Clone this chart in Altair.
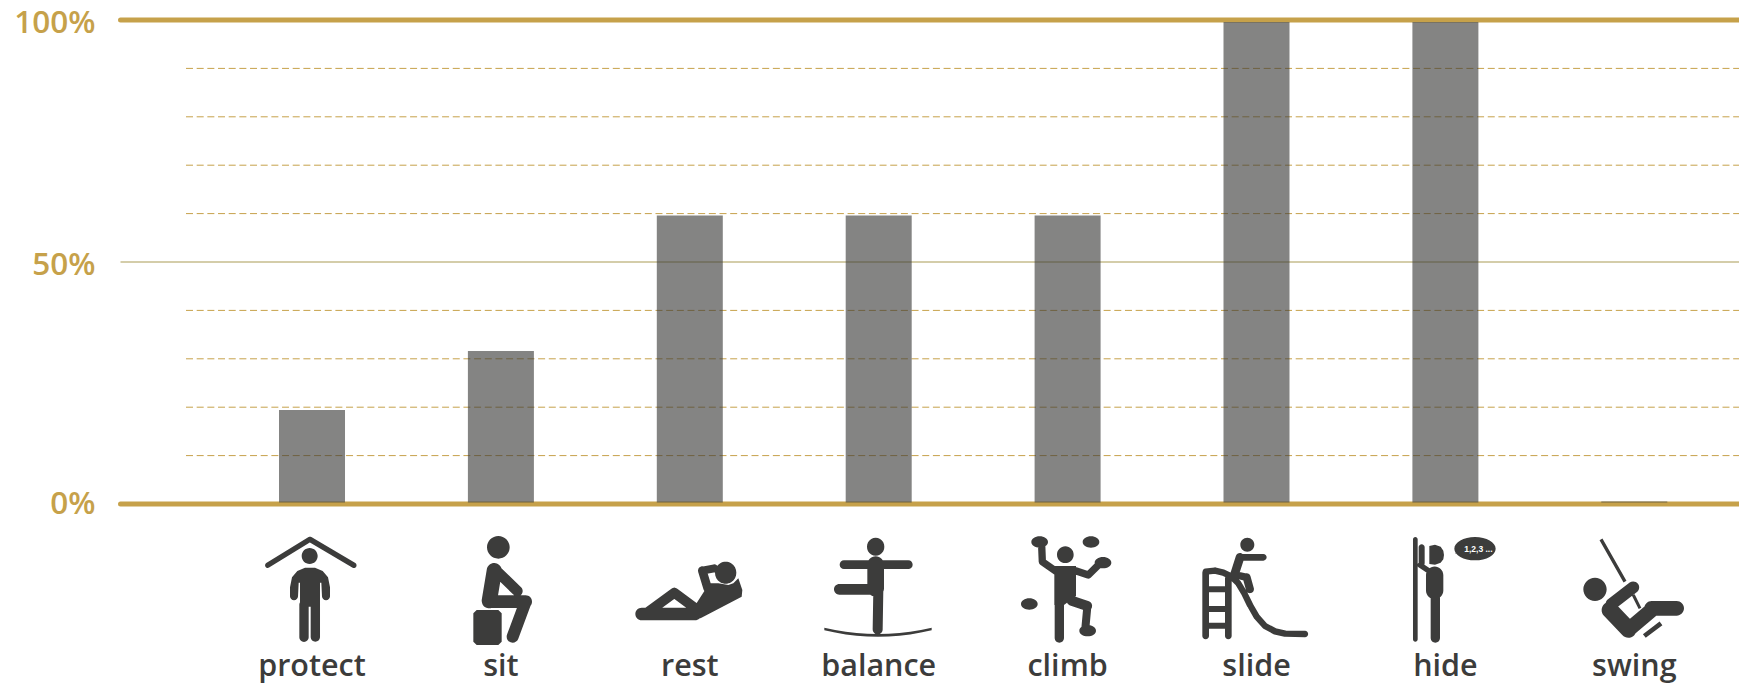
import math
import altair as alt
import pandas as pd

# ---- values ----
categories = ["protect", "sit", "rest", "balance", "climb", "slide", "hide", "swing"]
shares = [19.4, 31.6, 59.6, 59.6, 59.6, 99.6, 99.6, 0.5]
positions = [0, 1, 2, 3, 4, 5, 6, 7]
heavy_lines = [0, 100]
middle_lines = [50]
dashed_lines = [10, 20, 30, 40, 60, 70, 80, 90]
axis_ticks = [0, 50, 100]
bar_floor = 0.3

GOLD = "#c6a14a"
DARK = "#3c3c3b"
FONT = "Open Sans"
X0, X1 = -1.0138, 7.5543
DASH_X0 = -0.667
STEP, FIRST, ICON_Y = 188.9, 312.0, 570.0


# ---- pictogram glyph helpers (drawn as symbol shapes, in pixels round the glyph centre) ----
class Glyph:
    def __init__(self, index, ox, oy, s=3.0):
        self.cx, self.ox, self.oy, self.s = FIRST + STEP * index, ox, oy, s
        self.parts = []

    def m(self, p):
        return (self.ox + p[0] / self.s - self.cx, self.oy + p[1] / self.s - ICON_Y)

    def cap(self, a, b, w):
        r = w / 2 / self.s
        p, q = self.m(a), self.m(b)
        L = math.hypot(q[0] - p[0], q[1] - p[1]) or 1
        nx, ny = -(q[1] - p[1]) / L * r, (q[0] - p[0]) / L * r
        self.parts.append(
            f"M{p[0]+nx:.2f},{p[1]+ny:.2f}L{q[0]+nx:.2f},{q[1]+ny:.2f}"
            f"A{r:.2f},{r:.2f} 0 0 0 {q[0]-nx:.2f},{q[1]-ny:.2f}"
            f"L{p[0]-nx:.2f},{p[1]-ny:.2f}"
            f"A{r:.2f},{r:.2f} 0 0 0 {p[0]+nx:.2f},{p[1]+ny:.2f}Z"
        )

    def chain(self, pts, w):
        for a, b in zip(pts, pts[1:]):
            self.cap(a, b, w)

    def ell(self, c, rx, ry=None):
        ry = rx if ry is None else ry
        x, y = self.m(c)
        a, b = rx / self.s, ry / self.s
        self.parts.append(
            f"M{x+a:.2f},{y:.2f}A{a:.2f},{b:.2f} 0 1 0 {x-a:.2f},{y:.2f}"
            f"A{a:.2f},{b:.2f} 0 1 0 {x+a:.2f},{y:.2f}Z"
        )

    def poly(self, pts):
        P = [self.m(p) for p in pts]
        area = sum(P[i][0] * P[(i + 1) % len(P)][1] - P[(i + 1) % len(P)][0] * P[i][1] for i in range(len(P)))
        if area > 0:
            P = P[::-1]
        self.parts.append("M" + "L".join(f"{x:.2f},{y:.2f}" for x, y in P) + "Z")

    def bar(self, a, b, w):
        L = math.hypot(b[0] - a[0], b[1] - a[1])
        nx, ny = -(b[1] - a[1]) / L * w / 2, (b[0] - a[0]) / L * w / 2
        self.poly([(a[0] + nx, a[1] + ny), (b[0] + nx, b[1] + ny), (b[0] - nx, b[1] - ny), (a[0] - nx, a[1] - ny)])

    def path(self):
        return "".join(self.parts)


def protect():
    g = Glyph(0, 220, 490)
    g.cap((143, 226), (270, 148), 16)
    g.cap((270, 148), (402, 226), 16)
    g.ell((269, 198), 24)
    g.poly([(210, 320), (210, 292), (216, 262), (232, 243), (255, 233), (285, 233), (308, 243), (324, 262),
            (330, 292), (330, 320), (306, 320), (304, 278), (300, 278), (300, 350), (240, 350), (240, 278),
            (236, 278), (234, 320)])
    g.ell((222, 319), 12)
    g.ell((318, 319), 12)
    g.cap((252, 345), (252, 442), 28)
    g.cap((286, 345), (286, 442), 28)
    return g.path()


def sit():
    g = Glyph(1, 460, 530)
    g.ell((115, 52), 34)
    g.poly([(50, 240), (115, 240), (125, 250), (125, 335), (115, 345), (50, 345), (40, 335), (40, 250)])
    g.cap((103, 122), (88, 212), 46)
    g.cap((107, 120), (172, 183), 32)
    g.cap((85, 215), (197, 215), 38)
    g.cap((197, 215), (158, 320), 36)
    return g.path()


def rest():
    g = Glyph(2, 625, 550)
    g.ell((302, 68), 32)
    g.cap((50, 192), (210, 192), 38)
    g.cap((70, 185), (148, 128), 30)
    g.cap((148, 128), (225, 185), 30)
    g.cap((232, 62), (268, 55), 24)
    g.cap((232, 62), (248, 115), 26)
    g.poly([(205, 211), (228, 204), (350, 140), (352, 120), (340, 85), (325, 100), (310, 105), (280, 100),
            (255, 100), (240, 120), (205, 175)])
    return g.path()


def balance():
    g = Glyph(3, 720, 490)
    g.ell((467, 170), 26)
    g.cap((372, 224), (565, 224), 26)
    g.cap((467, 224), (467, 295), 50)
    g.cap((475, 300), (473, 418), 30)
    g.cap((358, 298), (470, 298), 32)
    top = [(313 + 32.2 * i, 413 + 19 * (1 - ((i - 5) / 5) ** 2)) for i in range(11)]
    low = [(313 + 32.2 * i, 421 + 19 * (1 - ((i - 5) / 5) ** 2)) for i in range(11)]
    g.poly(top + low[::-1])
    return g.path()


def climb():
    g = Glyph(4, 1010, 530)
    g.ell((166, 74), 25)
    for c in [(89, 36), (243, 36), (279, 98), (58, 222), (233, 302)]:
        g.ell(c, 25, 17)
    g.cap((95, 45), (97, 95), 22)
    g.cap((97, 95), (140, 125), 22)
    g.cap((190, 120), (235, 135), 22)
    g.cap((235, 135), (270, 100), 22)
    g.poly([(133, 108), (198, 108), (198, 198), (162, 225), (133, 225)])
    g.cap((148, 215), (148, 325), 28)
    g.cap((185, 212), (232, 228), 30)
    g.cap((232, 230), (226, 295), 24)
    return g.path()


def slide():
    g = Glyph(5, 1195, 530)
    g.ell((157, 44), 21)
    g.cap((135, 82), (205, 82), 20)
    g.cap((135, 82), (118, 135), 26)
    g.cap((125, 135), (155, 142), 22)
    g.cap((155, 142), (165, 178), 24)
    g.cap((32, 128), (32, 318), 20)
    g.cap((100, 145), (100, 318), 20)
    for y in (178, 237, 287):
        g.cap((32, y), (100, y), 18)
    g.chain([(32, 125), (60, 122), (85, 128), (110, 140), (130, 160), (148, 190), (165, 225), (185, 260),
             (210, 288), (240, 304), (270, 311), (330, 312)], 19)
    return g.path()


def hide():
    g = Glyph(6, 1400, 530)
    g.cap((46, 28), (46, 328), 14)
    g.poly([(88, 48), (105, 44), (122, 50), (130, 62), (132, 75), (130, 88), (122, 98), (105, 104), (88, 102)])
    g.cap((65, 52), (65, 100), 18)
    g.cap((60, 105), (105, 135), 16)
    g.cap((104, 135), (104, 182), 52)
    g.cap((106, 195), (106, 325), 28)
    g.ell((225, 56), 62, 35)
    g.poly([(165, 70), (190, 50), (190, 75)])
    return g.path()


def swing():
    g = Glyph(7, 1575, 530)
    g.bar((78, 28), (150, 155), 10)
    g.ell((60, 178), 35)
    g.cap((175, 172), (110, 222), 36)
    g.cap((105, 240), (160, 298), 50)
    g.cap((165, 295), (235, 236), 44)
    g.cap((230, 235), (305, 235), 44)
    g.bar((175, 195), (195, 235), 9)
    g.bar((208, 318), (258, 280), 14)
    return g.path()


glyphs = [protect(), sit(), rest(), balance(), climb(), slide(), hide(), swing()]

# ---- tables ----
bars = pd.DataFrame({"name": categories, "pos": positions, "share": shares})
heavy = pd.DataFrame({"y": heavy_lines})
middle = pd.DataFrame({"y": middle_lines})
dashed = pd.DataFrame({"y": dashed_lines})

x_scale = alt.Scale(domain=[X0, X1], nice=False, zero=False, padding=0)
y_scale = alt.Scale(domain=[0, 100], nice=False)
x_enc = alt.X("pos:Q", scale=x_scale, axis=None)
y_axis = alt.Axis(
    values=axis_ticks, title=None, grid=False, ticks=False, domain=False, labelExpr="datum.value + '%'",
    labelColor=GOLD, labelFont=FONT, labelFontSize=31.5, labelFontWeight=600, labelPadding=25.5,
    labelOffset={"condition": {"test": "datum.value == 0", "value": 0}, "value": 3},
)

dash_layer = alt.Chart(dashed).mark_rule(color=GOLD, strokeWidth=1, strokeDash=[7, 3.67]).encode(
    x=alt.datum(DASH_X0, scale=x_scale, axis=None), x2=alt.datum(X1),
    y=alt.Y("y:Q", scale=y_scale, axis=y_axis),
)
mid_layer = alt.Chart(middle).mark_rule(color="#a99b55", strokeWidth=1).encode(
    x=alt.datum(X0, scale=x_scale, axis=None), x2=alt.datum(X1), y=alt.Y("y:Q", scale=y_scale, axis=y_axis),
)
heavy_layer = alt.Chart(heavy).mark_rule(color=GOLD, strokeWidth=5, strokeCap="round").encode(
    x=alt.datum(X0, scale=x_scale, axis=None), x2=alt.datum(X1), y=alt.Y("y:Q", scale=y_scale, axis=y_axis),
)
bar_layer = alt.Chart(bars).mark_bar(color=DARK, opacity=0.63, size=66).encode(
    x=x_enc, y=alt.Y("share:Q", scale=y_scale, axis=y_axis), y2=alt.datum(bar_floor),
)
icon_layer = alt.Chart(bars).mark_point(filled=True, size=4, opacity=1, color=DARK, strokeWidth=0).encode(
    x=x_enc, y=alt.value(ICON_Y - 20),
    shape=alt.Shape("name:N", scale=alt.Scale(domain=categories, range=glyphs), legend=None),
)
text_layer = alt.Chart(bars).mark_text(
    color=DARK, font=FONT, fontSize=30.5, fontWeight=600, align="center", baseline="alphabetic"
).encode(x=x_enc, y=alt.value(656), text="name:N")
bubble_layer = alt.Chart(pd.DataFrame({"pos": [6], "t": ["1,2,3 ..."]})).mark_text(
    color="white", font="Liberation Sans", fontSize=8.5, fontWeight="bold", dx=33, align="center", baseline="middle"
).encode(x=x_enc, y=alt.value(529), text="t:N")

chart = alt.layer(dash_layer, mid_layer, heavy_layer, bar_layer, icon_layer, text_layer, bubble_layer).properties(
    width=1618.5, height=484,
    padding={"left": 112.5, "top": 12, "right": 0, "bottom": 183},
    autosize=alt.AutoSizeParams(type="none"),
    background="white",
).configure_view(stroke=None)

chart.save("out.html", embed_options={"renderer": "svg", "actions": False})
